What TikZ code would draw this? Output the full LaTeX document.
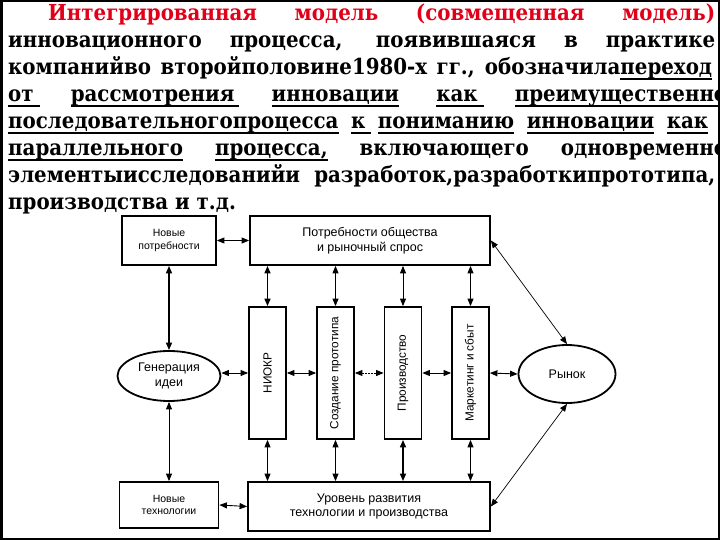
\documentclass[tikz,border=0pt]{standalone}
\usepackage{fontspec}
\usepackage{graphicx}
\setmainfont{DejaVu Serif}[FakeStretch=0.9]
\newfontfamily\diagfont{Liberation Sans}
\usetikzlibrary{arrows.meta,shapes.geometric}
\definecolor{titlered}{RGB}{225,0,25}
\newsavebox\ulbox
\newsavebox\lnbox
\newcommand\ulw[2][0pt]{\sbox\ulbox{#2}\rlap{\rule[-5pt]{\dimexpr\wd\ulbox+#1\relax}{2.2pt}}\usebox\ulbox}
\newcommand\fitline[2]{\sbox\lnbox{#2}\ifdim\wd\lnbox>#1\relax\resizebox{#1}{\height}{\usebox\lnbox}\else\makebox[#1][s]{#2}\fi}
\newcommand\titlefont{\bfseries\fontsize{22}{23}\selectfont}
\newcommand\dfont{\diagfont\fontsize{12.5}{14.5}\selectfont}
\newcommand\sfont{\diagfont\fontsize{10.5}{12.5}\selectfont}
\newcommand\vfont{\diagfont\fontsize{11.8}{13}\selectfont}
\begin{document}
\begin{tikzpicture}[x=1pt,y=-1pt,
  tl/.style={anchor=base west,inner sep=0pt,font=\titlefont},
  box/.style={draw,line width=1.8pt,rectangle,inner sep=0pt,align=center,font=\dfont},
  ell/.style={draw,line width=1.8pt,ellipse,inner sep=0pt,align=center,font=\dfont},
  vbox/.style={box,minimum width=37pt,minimum height=132pt,font=\vfont},
  con/.style={{Triangle[length=7.5pt,width=6pt]}-{Triangle[length=7.5pt,width=6pt]},line width=0.9pt},
  thk/.style={line width=1.6pt}]
\useasboundingbox (0,0) rectangle (720,540);
\fill[white] (0,0) rectangle (720,540);
\begin{scope}
\clip (0,0) rectangle (720,540);
\node[tl,text=titlered] (l1) at (48,21) {\fitline{667pt}{Интегрированная модель (совмещенная модель)}};
\node[tl] (l2) at (8,48) {\fitline{707pt}{инновационного процесса, появившаяся в практике}};
\node[tl] (l3) at (8,75) {\fitline{704pt}{компанийво второйполовине1980-х гг., обозначила\ulw{переход}}};
\node[tl] (l4) at (8,102) {\makebox[719pt][s]{\ulw[6pt]{от} \ulw[4pt]{рассмотрения} \ulw{инновации} \ulw[6pt]{как} \ulw{преимущественно}}};
\node[tl] (l5) at (8,129) {\fitline{700pt}{\ulw{последовательногопроцесса} \ulw[6pt]{к} \ulw{пониманию} \ulw{инновации} \ulw{как}}};
\node[tl] (l6) at (8,156) {\makebox[719pt][s]{\ulw{параллельного} \ulw{процесса,} включающего одновременно}};
\node[tl] (l7) at (8,183) {\fitline{707pt}{элементыисследованийи разработок,разработкипрототипа,}};
\node[tl] (l8) at (8,210) {производства и т.д.};
\end{scope}
% diagram nodes
\node[box,font=\sfont,minimum width=94pt,minimum height=49pt] (np) at (169,240.5) {Новые\\потребности};
\node[box,minimum width=240pt,minimum height=49pt] (po) at (370,240.5) {Потребности общества\\и рыночный спрос};
\node[vbox] (niokr) at (267.5,373) {\rotatebox{90}{НИОКР}};
\node[vbox] (proto) at (335.5,373) {\rotatebox{90}{Создание прототипа}};
\node[vbox] (proizv) at (403,373) {\rotatebox{90}{Производство}};
\node[vbox] (mark) at (470.5,373) {\rotatebox{90}{Маркетинг и сбыт}};
\node[ell,minimum width=103pt,minimum height=50pt] (gen) at (169,376) {Генерация\\идеи};
\node[ell,minimum width=97pt,minimum height=58pt] (ryn) at (567,374) {Рынок};
\node[box,font=\sfont,minimum width=99pt,minimum height=46pt] (nt) at (169,505) {Новые\\технологии};
\node[box,minimum width=242pt,minimum height=49pt] (ur) at (369,506.5) {Уровень развития\\технологии и производства};
% connectors
\draw[con] (np.east) -- (po.west);
\draw[con,thk] (np.south) -- (gen.north);
\draw[con] (gen.south) -- (nt.north);
\draw[con] (gen.east |- niokr.west) -- (niokr.west);
\draw[con] (niokr.east) -- (proto.west);
\draw[con,dash pattern=on 1.5pt off 1.5pt] (proto.east) -- (proizv.west);
\draw[con] (proizv.east) -- (mark.west);
\draw[con] (mark.east) -- (ryn.west);
\draw[con,thk] (po.south -| niokr.north) -- (niokr.north);
\draw[con] (po.south -| proto.north) -- (proto.north);
\draw[con] (po.south -| proizv.north) -- (proizv.north);
\draw[con] (po.south -| mark.north) -- (mark.north);
\draw[con] (niokr.south) -- (niokr.south |- ur.north);
\draw[con] (proto.south) -- (proto.south |- ur.north);
\draw[con,thk] (proizv.south) -- (proizv.south |- ur.north);
\draw[con] (mark.south) -- (mark.south |- ur.north);
\draw[con] (nt.east) -- (ur.west);
\draw[con,line width=0.7pt] (po.east) -- (ryn.north);
\draw[con,line width=0.7pt] (ur.east) -- (ryn.south);
% frame
\draw[line width=2.5pt] (1.25,1.25) rectangle (718.75,538.75);
\end{tikzpicture}
\end{document}
